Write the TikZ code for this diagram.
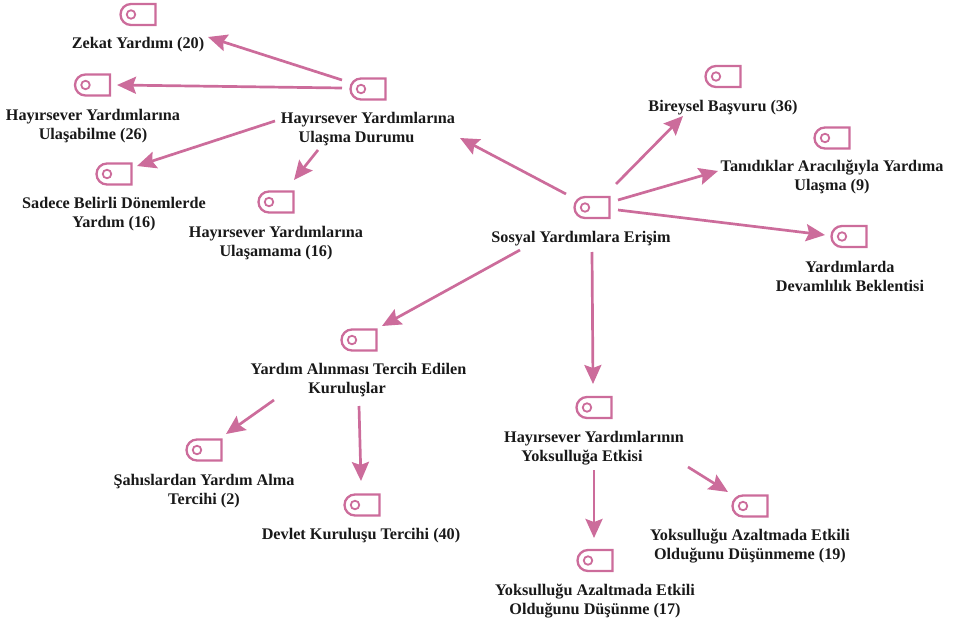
\documentclass[tikz,border=0pt]{standalone}
\usepackage{fontspec}
\setmainfont{Liberation Serif}
\usetikzlibrary{shapes.misc,arrows.meta,calc}
\definecolor{pk}{HTML}{CC6C9B}
\tikzset{
  x=1pt,y=-1pt,
  iconbox/.style={draw=pk,line width=2.3pt,rounded rectangle,rounded rectangle east arc=none,minimum width=35pt,minimum height=21pt,inner sep=0pt,outer sep=0pt},
  icondot/.style={draw=pk,line width=1.8pt,circle,minimum size=8.5pt,inner sep=0pt},
  lab/.style={font=\fontsize{16.2pt}{19pt}\selectfont\bfseries,align=center,inner sep=0pt,text=black!90},
  arr/.style={draw=pk,line width=2.7pt,-{Stealth[length=19pt,width=17pt,inset=3pt]}},
}
\newcommand{\ico}[3]{\node[iconbox] (#1) at (#2,#3) {}; \node[icondot] (#1d) at (#2-7,#3) {};}
\begin{document}
\begin{tikzpicture}
\useasboundingbox (0,0) rectangle (955,623);
\ico{zek}{138}{14.5}
\ico{ula}{92.5}{85}
\ico{dur}{368}{89}
\ico{sad}{114}{174}
\ico{uam}{276}{202}
\ico{sos}{592}{207.5}
\ico{bir}{723}{76.5}
\ico{tan}{832}{138}
\ico{dev}{849}{236.5}
\ico{kur}{359}{340}
\ico{yok}{594}{407.5}
\ico{sah}{204}{450}
\ico{dkr}{362}{505}
\ico{dsm}{750}{506}
\ico{dsn}{595}{560.5}
\node[lab] (tzek) at (138,44.5) {Zekat Yardımı (20)};
\node[lab] (tula) at (93,126) {Hayırsever Yardımlarına\\Ulaşabilme (26)};
\node[lab] (tdur) at (368,129.5) {Hayırsever Yardımlarına\\Ulaşma Durumu\hspace*{23pt}};
\node[lab] (tsad) at (114,214) {Sadece Belirli Dönemlerde\\Yardım (16)};
\node[lab] (tuam) at (276,243) {Hayırsever Yardımlarına\\Ulaşamama (16)};
\node[lab] (tsos) at (581,238.5) {Sosyal Yardımlara Erişim};
\node[lab] (tbir) at (723,107.5) {Bireysel Başvuru (36)};
\node[lab] (ttan) at (832,177.5) {Tanıdıklar Aracılığıyla Yardıma\\Ulaşma (9)};
\node[lab] (tdev) at (850,276) {Yardımlarda\\Devamlılık Beklentisi};
\node[lab] (tkur) at (358.5,380) {Yardım Alınması Tercih Edilen\\Kuruluşlar\hspace*{23pt}};
\node[lab] (tyok) at (594,448) {Hayırsever Yardımlarının\\Yoksulluğa Etkisi\hspace*{24pt}};
\node[lab] (tsah) at (204,491) {Şahıslardan Yardım Alma\\Tercihi (2)};
\node[lab] (tdkr) at (361,535.5) {Devlet Kuruluşu Tercihi (40)};
\node[lab] (tdsm) at (750,546) {Yoksulluğu Azaltmada Etkili\\Olduğunu Düşünmeme (19)};
\node[lab] (tdsn) at (595,601) {Yoksulluğu Azaltmada Etkili\\Olduğunu Düşünme (17)};
\draw[arr] ($(dur)+(-26,-9)$) -- ($(zek)+(70,22.5)$);
\draw[arr] ($(dur)+(-26,-1)$) -- ($(ula)+(24.5,0)$);
\draw[arr] ($(tdur)+(-93,-8.5)$) -- ($(sad)+(23,-8)$);
\draw[arr] ($(tdur)+(-50,20.5)$) -- ($(uam)+(18,-22)$);
\draw[arr] ($(sos)+(-26,-13.5)$) -- ($(tdur)+(92,8.5)$);
\draw[arr] ($(sos)+(24,-23.5)$) -- ($(bir)+(-40,39.5)$);
\draw[arr] ($(sos)+(26,-7.5)$) -- ($(ttan)+(-114,-6.5)$);
\draw[arr] ($(sos)+(26,2.5)$) -- ($(dev)+(-24,-1.5)$);
\draw[arr] ($(tsos)+(-61,11.5)$) -- ($(kur)+(23,-14)$);
\draw[arr] ($(sos)+(0,44.5)$) -- ($(yok)+(-1,-23.5)$);
\draw[arr] ($(tkur)+(-84.5,20)$) -- ($(sah)+(22,-16)$);
\draw[arr] ($(tkur)+(0.5,26)$) -- ($(dkr)+(-1,-24)$);
\draw[arr] ($(tyok)+(0,22)$) -- ($(dsn)+(-1,-22.5)$);
\draw[arr] ($(tyok)+(94,19)$) -- ($(dsm)+(-22,-14)$);
\end{tikzpicture}
\end{document}
